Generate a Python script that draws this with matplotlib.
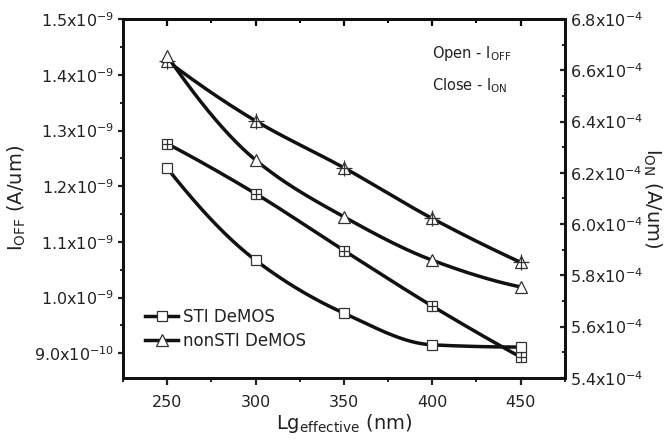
import numpy as np
import matplotlib
matplotlib.use("Agg")
import matplotlib.pyplot as plt
from matplotlib.ticker import MultipleLocator, FuncFormatter, FixedLocator
from matplotlib.lines import Line2D

plt.rcParams['font.family'] = ['DejaVu Sans']
plt.rcParams['mathtext.default'] = 'regular'
plt.rcParams['mathtext.fontset'] = 'dejavusans'

# ---- data ----
lg = [250, 300, 350, 400, 450]
ioff_sti = [1.2325e-9, 1.067e-9, 0.972e-9, 0.915e-9, 0.911e-9]
ioff_nonsti = [1.434e-9, 1.247e-9, 1.145e-9, 1.067e-9, 1.019e-9]
ion_sti = [6.314e-4, 6.119e-4, 5.897e-4, 5.68e-4, 5.481e-4]
ion_nonsti = [6.637e-4, 6.403e-4, 6.22e-4, 6.022e-4, 5.851e-4]
legend_labels = ["STI DeMOS", "nonSTI DeMOS"]
xticks = [250, 300, 350, 400, 450]
left_ticks = [0.9e-9, 1.0e-9, 1.1e-9, 1.2e-9, 1.3e-9, 1.4e-9, 1.5e-9]
right_ticks = [5.4e-4, 5.6e-4, 5.8e-4, 6.0e-4, 6.2e-4, 6.4e-4, 6.6e-4, 6.8e-4]


def smooth(x, y, n=200):
    """Monotone (PCHIP-style) cubic through the given points, for drawing only."""
    x = np.asarray(x, float)
    y = np.asarray(y, float)
    h = np.diff(x)
    d = np.diff(y) / h
    k = len(x)
    m = np.zeros(k)
    for i in range(1, k - 1):
        if d[i - 1] * d[i] <= 0:
            m[i] = 0
        else:
            w1 = 2 * h[i] + h[i - 1]
            w2 = h[i] + 2 * h[i - 1]
            m[i] = (w1 + w2) / (w1 / d[i - 1] + w2 / d[i])
    m[0] = ((2 * h[0] + h[1]) * d[0] - h[0] * d[1]) / (h[0] + h[1])
    if np.sign(m[0]) != np.sign(d[0]):
        m[0] = 0
    m[-1] = ((2 * h[-1] + h[-2]) * d[-1] - h[-1] * d[-2]) / (h[-1] + h[-2])
    if np.sign(m[-1]) != np.sign(d[-1]):
        m[-1] = 0
    xs = np.linspace(x[0], x[-1], n)
    ys = np.empty_like(xs)
    for j, xv in enumerate(xs):
        i = min(np.searchsorted(x, xv, side='right') - 1, k - 2)
        t = (xv - x[i]) / h[i]
        h00 = 2 * t ** 3 - 3 * t ** 2 + 1
        h10 = t ** 3 - 2 * t ** 2 + t
        h01 = -2 * t ** 3 + 3 * t ** 2
        h11 = t ** 3 - t ** 2
        ys[j] = h00 * y[i] + h10 * h[i] * m[i] + h01 * y[i + 1] + h11 * h[i] * m[i + 1]
    return xs, ys


def sci_fmt(v, pos):
    if v <= 0:
        return ''
    e = int(np.floor(np.log10(v) + 1e-9))
    mm = v / 10 ** e
    return '%.1fx10$^{%d}$' % (mm, e)


fig = plt.figure(figsize=(6.7, 4.47), dpi=100)
ax = fig.add_axes([0.1836, 0.1544, 0.6594, 0.8031])
ax2 = ax.twinx()

lc = '#111111'
lw = 2.5
mec = '#333333'

# lines
for ys, a in [(ioff_sti, ax), (ioff_nonsti, ax), (ion_sti, ax2), (ion_nonsti, ax2)]:
    xs, yy = smooth(lg, ys)
    a.plot(xs, yy, color=lc, lw=lw, zorder=2, solid_capstyle='butt')

# open markers (I_OFF)
ax.plot(lg, ioff_sti, ls='none', marker='s', ms=7.2, mfc='white', mec=mec, mew=0.9, zorder=3)
ax.plot(lg, ioff_nonsti, ls='none', marker='^', ms=8.8, mfc='white', mec=mec, mew=0.9, zorder=3)
# crossed markers (I_ON)
ax2.plot(lg, ion_sti, ls='none', marker='s', ms=7.2, mfc='white', mec=mec, mew=0.9, zorder=3)
ax2.plot(lg, ion_sti, ls='none', marker='+', ms=7.2, mec=mec, mew=0.9, zorder=4)
ax2.plot(lg, ion_nonsti, ls='none', marker='^', ms=8.8, mfc='white', mec=mec, mew=0.9, zorder=3)
ax2.plot(lg, ion_nonsti, ls='none', marker='+', ms=11, mec=mec, mew=0.9, zorder=4)

ax.set_xlim(225, 475)
ax.set_ylim(0.8555e-9, 1.5003e-9)
ax2.set_ylim(5.3995e-4, 6.8005e-4)

ax.set_xticks(xticks)
ax.xaxis.set_minor_locator(MultipleLocator(25))
ax.yaxis.set_major_locator(FixedLocator(left_ticks))
ax.yaxis.set_minor_locator(FixedLocator([t + 0.05e-9 for t in left_ticks[:-1]]))
ax.yaxis.set_major_formatter(FuncFormatter(sci_fmt))
ax2.yaxis.set_major_locator(FixedLocator(right_ticks))
ax2.yaxis.set_minor_locator(FixedLocator([t + 0.1e-4 for t in right_ticks[:-1]]))
ax2.yaxis.set_major_formatter(FuncFormatter(sci_fmt))

tc = '#222222'
fs_tick = 11.5
ax.tick_params(axis='x', which='both', bottom=True, top=False, direction='out',
               labelsize=fs_tick, colors=tc, pad=7)
ax.tick_params(axis='x', which='major', length=5, width=1.6)
ax.tick_params(axis='x', which='minor', length=3, width=1.4)
secx = ax.secondary_xaxis('top')
secx.set_xticks(xticks)
secx.xaxis.set_minor_locator(MultipleLocator(25))
secx.tick_params(axis='x', which='both', direction='in', labeltop=False)
secx.tick_params(axis='x', which='major', length=5, width=1.6)
secx.tick_params(axis='x', which='minor', length=3, width=1.4)
secx.spines['top'].set_linewidth(2.0)

ax.tick_params(axis='y', which='both', direction='out', labelsize=fs_tick, colors=tc, pad=3)
ax.tick_params(axis='y', which='major', length=3.5, width=1.6)
ax.tick_params(axis='y', which='minor', length=2.5, width=1.4)
ax2.tick_params(axis='y', which='both', direction='in', labelsize=fs_tick, colors=tc, pad=4)
ax2.tick_params(axis='y', which='major', length=3.5, width=1.6)
ax2.tick_params(axis='y', which='minor', length=2.5, width=1.4)

for a in (ax, ax2):
    for s in a.spines.values():
        s.set_linewidth(2.0)
        s.set_color('#111111')

ax.set_xlabel('Lg$_{effective}$ (nm)', fontsize=14, color=tc, labelpad=2)
ax.set_ylabel('I$_{OFF}$ (A/um)', fontsize=14, color=tc, labelpad=4)
ax2.set_ylabel('I$_{ON}$ (A/um)', fontsize=14, color=tc, rotation=270, labelpad=14)

ax.text(0.70, 0.905, 'Open - I$_{OFF}$', transform=ax.transAxes, fontsize=10.5, color=tc, va='center')
ax.text(0.70, 0.815, 'Close - I$_{ON}$', transform=ax.transAxes, fontsize=10.5, color=tc, va='center')

handles = [
    Line2D([], [], color=lc, lw=lw, marker='s', ms=7.2, mfc='white', mec=mec, mew=0.9),
    Line2D([], [], color=lc, lw=lw, marker='^', ms=8.8, mfc='white', mec=mec, mew=0.9),
]
ax.legend(handles, legend_labels, loc='lower left', bbox_to_anchor=(0.035, 0.06), frameon=False,
          fontsize=12, handlelength=2.0, handletextpad=0.3, labelspacing=0.35, borderaxespad=0,
          labelcolor=tc)

ax.set_zorder(ax2.get_zorder() + 1)
ax.patch.set_visible(False)

fig.savefig('out.png', dpi=100)
